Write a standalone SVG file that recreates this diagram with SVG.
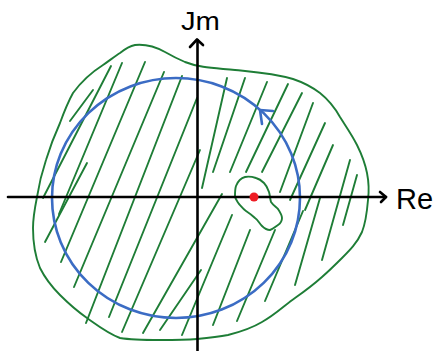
<svg xmlns="http://www.w3.org/2000/svg" width="438" height="351" viewBox="0 0 438 351">
<style>
.g{fill:none;stroke:#1e7d36;stroke-width:1.9;stroke-linecap:round;stroke-linejoin:round}
.b{fill:none;stroke:#3b6cc4;stroke-width:2.6;stroke-linecap:round;stroke-linejoin:round}
.k{fill:none;stroke:#000;stroke-width:2.6;stroke-linecap:round;stroke-linejoin:round}
.t{font-family:"Liberation Sans",Arial,sans-serif;fill:#000}
</style>
<rect width="438" height="351" fill="#fff"/>
<g id="region">
<path class="g" d="M135,45 C145,44 156,47 165,52 C172,56 178,59 185,62 C200,68 215,68 235,70 C255,72 272,73 293,79 C305,83 312,87 320,93 C330,101 335,108 340,117 C347,128 352,135 357,145 C362,155 365,163 367,173 C369,183 369,192 368,200 C367,212 366,222 362,232 C357,243 350,250 342,258 C336,264 330,270 322,277 C313,285 305,291 295,298 C285,305 275,315 262,322 C252,328 240,332 228,335 C218,337 208,338 197,339 C185,340 172,340 160,340 C145,340 132,340 120,338 C107,333 97,325 87,318 C77,311 68,303 60,295 C52,287 45,278 40,268 C35,256 33,242 33,228 C33,217 35,207 37,197 C39,184 42,172 46,160 C50,147 55,134 60,123 C64,112 68,102 73,93 C81,82 92,72 103,65 C109,61 115,56 120,53 C125,49 130,46 135,45 Z"/>
<path class="g" d="M236,186 C238,181 241,178 245,177 C249,176 253,177 256,178 C260,179 262,181 264,183 C267,186 268,189 269,192 C270,195 270,199 271,202 C273,205 276,207 278,209 C280,212 282,215 282,218 C282,221 281,223 278,225 C275,227 273,229 270,230 C267,230 264,228 262,226 C259,223 258,220 255,218 C252,215 249,213 246,211 C243,209 241,206 239,204 C237,201 235,199 235,196 C235,193 235,189 236,186 Z"/>
</g>
<g id="hatch" class="g">
<path d="M70,121 L93,90"/>
<path d="M43,198 L111,66"/>
<path d="M45,242 L87,163"/>
<path d="M59,214 L122,63"/>
<path d="M61,262 L145,62"/>
<path d="M74,287 L164,72"/>
<path d="M86,323 L182,76"/>
<path d="M109,317 L197,98"/>
<path d="M122,332 L200,150"/>
<path d="M143,333 L222,194"/>
<path d="M160,330 L201,270"/>
<path d="M182,335 L232,215"/>
<path d="M213,325 L250,230"/>
<path d="M237,321 L275,230"/>
<path d="M265,301 L303,211"/>
<path d="M295,285 L320,198"/>
<path d="M322,260 L350,160"/>
<path d="M202,188 L227,78"/>
<path d="M213,172 L245,78"/>
<path d="M230,172 L267,82"/>
<path d="M246,172 L288,84"/>
<path d="M262,172 L302,93"/>
<path d="M280,192 L313,103"/>
<path d="M290,200 L325,123"/>
<path d="M305,210 L333,145"/>
<path d="M343,225 L357,175"/>
</g>
<g id="circle">
<ellipse class="b" cx="176" cy="198" rx="124" ry="120"/>
<polyline class="b" points="262,124 260,110 273,111"/>
</g>
<g id="axes">
<line class="k" x1="8" y1="197" x2="386" y2="197"/>
<polyline class="k" points="380,192 386,197 381,202"/>
<line class="k" x1="197.5" y1="40" x2="197.5" y2="351"/>
<polyline class="k" points="190,47 197,39.5 203,45"/>
</g>
<g id="pole">
<circle cx="254" cy="197" r="4.5" fill="#ee1c24"/>
</g>
<g id="labels">
<text class="t" x="181" y="30" font-size="26" textLength="39" lengthAdjust="spacingAndGlyphs">Jm</text>
<text class="t" x="396" y="209" font-size="29">Re</text>
</g>
</svg>
